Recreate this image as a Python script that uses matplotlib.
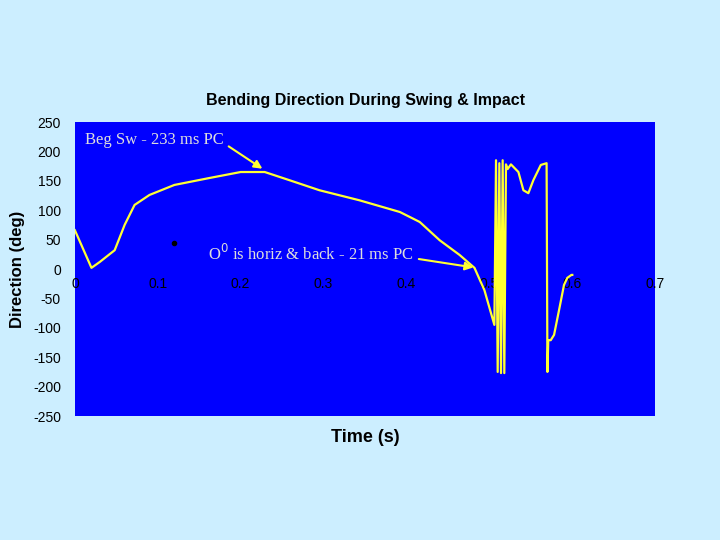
import matplotlib
matplotlib.use("Agg")
import matplotlib.pyplot as plt

plt.rcParams["font.family"] = ["Liberation Sans", "DejaVu Sans"]
plt.rcParams["axes.unicode_minus"] = False

t = [0.0, 0.02, 0.03, 0.048, 0.06, 0.072, 0.09, 0.12, 0.163, 0.2, 0.229, 0.259, 0.295, 0.343,
     0.392, 0.416, 0.44, 0.464, 0.482, 0.494, 0.506, 0.508, 0.510, 0.512, 0.514, 0.516, 0.518,
     0.520, 0.522, 0.526, 0.535, 0.541, 0.547, 0.553, 0.562, 0.569, 0.570, 0.571, 0.574, 0.578,
     0.584, 0.590, 0.594, 0.599, 0.600]
d = [66, 2, 12, 32, 75, 109, 126, 143, 155, 165, 165, 151, 134, 117,
     97, 80, 49, 24, 2, -36, -95, 185, -175, 180, -177, 185, -177, 178, 170, 178, 165, 134,
     129, 151, 177, 180, -175, -121, -121, -112, -70, -27, -15, -10, -10]

fig = plt.figure(figsize=(7.2, 5.4), dpi=100, facecolor="#CCEEFF")
ax = fig.add_axes([0.104, 0.2296, 0.806, 0.5444], facecolor="#0000FF")
ax.plot(t, d, color="#FFFF33", lw=1.6)
ax.set_xlim(0, 0.7)
ax.set_ylim(-250, 250)
ax.set_yticks(range(-250, 251, 50))
ax.set_xticks([i / 10 for i in range(8)])
ax.set_xticklabels(["0", "0.1", "0.2", "0.3", "0.4", "0.5", "0.6", "0.7"])
ax.spines["bottom"].set_position(("data", 0))
for s in ax.spines.values():
    s.set_visible(False)
ax.tick_params(length=0, labelsize=10)
ax.tick_params(axis="y", pad=10)
ax.tick_params(axis="x", pad=6)
ax.set_title("Bending Direction During Swing & Impact", fontsize=11.5, fontweight="bold", pad=12)
ax.set_ylabel("Direction (deg)", fontsize=12, fontweight="bold", labelpad=6)
fig.text(0.507, 0.189, "Time (s)", ha="center", va="center", fontsize=13, fontweight="bold")

ax.annotate("Beg Sw - 233 ms PC", xy=(0.229, 168), xytext=(0.012, 213),
            family="Liberation Serif", color="#DDDDDD", fontsize=12,
            arrowprops=dict(arrowstyle="-|>", color="#FFFF33", lw=1.5, relpos=(1, 0.3)))
ax.annotate(r"O$^0$ is horiz & back - 21 ms PC", xy=(0.484, 2), xytext=(0.16, 15),
            family="Liberation Serif", color="#DDDDDD", fontsize=12,
            arrowprops=dict(arrowstyle="-|>", color="#FFFF33", lw=1.5, relpos=(1, 0.3)))
ax.plot([0.12], [45], "o", color="black", ms=3)
fig.savefig("out.png", dpi=100, facecolor=fig.get_facecolor())
